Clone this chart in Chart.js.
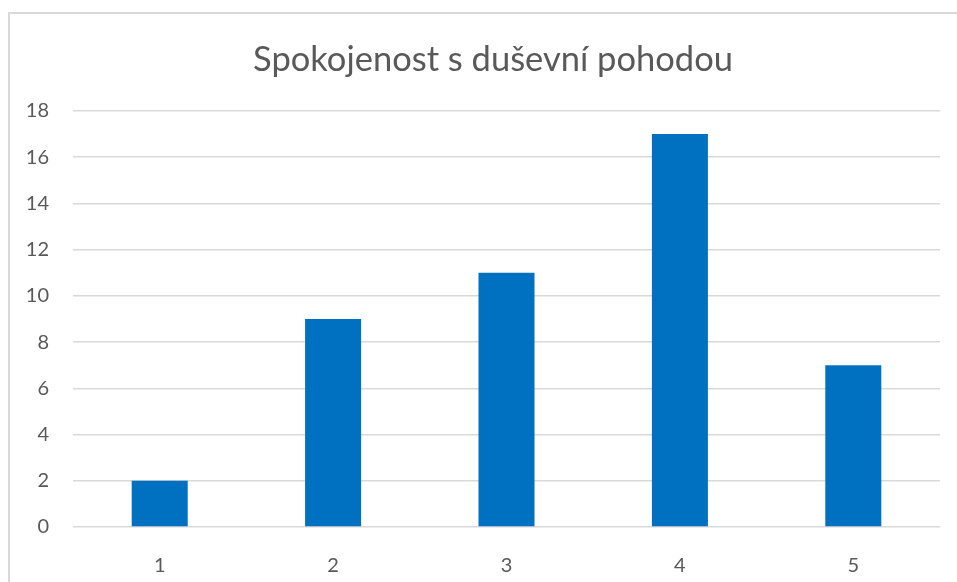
<!DOCTYPE html>
<html>
<head>
<meta charset="utf-8">
<script src="https://cdn.jsdelivr.net/npm/chart.js@4"></script>
<style>
  html, body { margin: 0; padding: 0; background: #fff; overflow: hidden; }
  #frame { position: absolute; left: 8px; top: 12px; width: 2000px; height: 2000px; border: 2px solid #d9d9d9; }
  #wrap { position: absolute; left: 0; top: 0; width: 957px; height: 582px; }
</style>
</head>
<body>
<div id="frame"></div>
<div id="wrap"><canvas id="myChart"></canvas></div>
<script>
// data
const categories = ["1", "2", "3", "4", "5"];
const counts = [2, 9, 11, 17, 7];
const chartTitle = "Spokojenost s duševní pohodou";

const textColor = "#595959";
const gridColor = "#d9d9d9";

// the original title sits a bit right of the plot centre
const shiftTitle = {
  id: "shiftTitle",
  afterLayout(chart) {
    if (chart.titleBlock) chart.titleBlock.left += 46;
  },
};

let ctx = document.getElementById('myChart').getContext("2d");
let chart = new Chart(ctx, {
  type: "bar",
  data: {
    labels: categories,
    datasets: [{
      label: "Počet",
      data: counts,
      backgroundColor: "#0070c0",
      borderWidth: 0,
      barPercentage: 0.323,
      categoryPercentage: 1,
    }],
  },
  options: {
    responsive: true,
    maintainAspectRatio: false,
    animation: false,
    layout: { padding: { left: 0, right: 17, top: 0, bottom: 0 } },
    plugins: {
      legend: { display: false },
      tooltip: { enabled: false },
      title: {
        display: true,
        text: chartTitle,
        color: textColor,
        font: { family: "Lato", size: 34.5, weight: "normal" },
        padding: { top: 39, bottom: 30.5 },
      },
    },
    scales: {
      x: {
        grid: { display: false },
        border: { display: false },
        ticks: { color: textColor, font: { family: "Lato", size: 20 }, padding: 19 },
        afterFit: (axis) => { axis.height = 55; },
      },
      y: {
        min: 0,
        max: 18,
        ticks: { stepSize: 2, color: textColor, font: { family: "Lato", size: 20 }, padding: 24 },
        grid: { color: gridColor, lineWidth: 1.5, drawTicks: false },
        border: { display: false },
        afterFit: (axis) => { axis.width = 73; },
      },
    },
  },
  plugins: [shiftTitle],
});
</script>
</body>
</html>
